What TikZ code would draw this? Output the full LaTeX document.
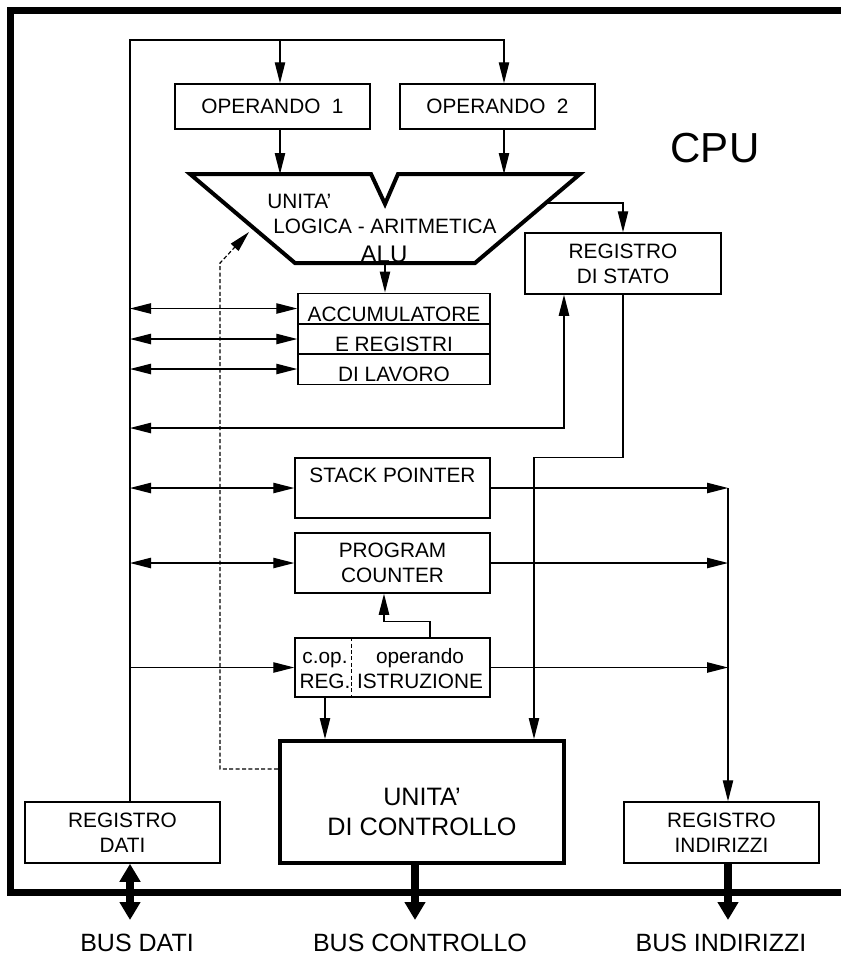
\documentclass[tikz,border=0pt]{standalone}
\usepackage{fontspec}
\setmainfont{Liberation Sans}
\usepackage{tikz}
\usetikzlibrary{positioning, arrows.meta, calc}

\tikzset{
  thin line/.style={line width=0.6pt},
  reg/.style={draw, line width=0.75pt, align=center, inner sep=0pt,
    font=\fontsize{10.4}{12.5}\selectfont},
  accrow/.style={reg, minimum width=96pt, minimum height=15.25pt,
    text height=12.5pt, text depth=0pt},
  arr/.style={thin line, -{Triangle[length=10.5pt,width=5.2pt]}},
  darr/.style={thin line, {Triangle[length=10.5pt,width=5.2pt]}-{Triangle[length=10.5pt,width=5.2pt]}},
  busarr/.style={line width=4pt, -{Triangle[length=9pt,width=10pt]}},
  busdarr/.style={line width=4pt, {Triangle[length=9pt,width=10pt]}-{Triangle[length=9pt,width=10pt]}},
  buslabel/.style={inner sep=0pt, font=\fontsize{12.5}{15}\selectfont},
}

\begin{document}
\begin{tikzpicture}[x=0.5pt, y=-0.5pt]
  \useasboundingbox (0,0) rectangle (841,955);
  \draw[line width=3.5pt, line join=miter] (841,10.5) -- (10.5,10.5) -- (10.5,892) -- (841,892);
  \node[font=\fontsize{21}{25}\selectfont] (cpu) at (715,148) {CPU};

  % ALU
  \coordinate (alu-a) at (190,174);
  \coordinate (alu-b) at (371,174);
  \coordinate (alu-c) at (385,204);
  \coordinate (alu-d) at (398,174);
  \coordinate (alu-e) at (580,174);
  \coordinate (alu-f) at (475,263);
  \coordinate (alu-g) at (295,263);
  \draw[line width=2pt, line join=miter] (alu-a) -- (alu-b) -- (alu-c) -- (alu-d) -- (alu-e)
    -- (alu-f) -- (alu-g) -- cycle;
  \node[anchor=base west, inner sep=0pt, font=\fontsize{10.4}{12.5}\selectfont] (alut1) at (267,208) {UNITA'};
  \node[anchor=base west, inner sep=0pt, font=\fontsize{10.4}{12.5}\selectfont] (alut2) at (273,233) {LOGICA - ARITMETICA};
  \node[anchor=base, inner sep=0pt, font=\fontsize{12}{14}\selectfont] (alut3) at (384,262) {ALU};

  \node[reg, minimum width=97.5pt, minimum height=22.5pt] (op1) at (272.5,106.5) {OPERANDO~~1};
  \node[reg, minimum width=97.5pt, minimum height=22.5pt] (op2) at (497.5,106.5) {OPERANDO~~2};
  \node[reg, minimum width=98pt, minimum height=30.5pt] (stato) at (623,263.5) {REGISTRO\\DI STATO};

  \node[accrow] (acc1) at (394,308.5) {ACCUMULATORE};
  \node[accrow] (acc2) at (394,339) {E REGISTRI};
  \node[accrow] (acc3) at (394,369) {DI LAVORO};

  \node[reg, minimum width=97.5pt, minimum height=30pt] (sp) at (392.5,488) {STACK POINTER\\~};
  \node[reg, minimum width=97.5pt, minimum height=30pt] (pc) at (392.5,563) {PROGRAM\\COUNTER};
  \node[reg, minimum width=97.5pt, minimum height=29.5pt] (ir) at (392.5,667.5) {};
  \node[align=center, inner sep=0pt, text height=20.5pt, text depth=0pt,
    font=\fontsize{10.4}{12.5}\selectfont] (irl) at (325,667.5) {c.op.\\REG.};
  \node[align=center, inner sep=0pt, text height=20.5pt, text depth=0pt,
    font=\fontsize{10.4}{12.5}\selectfont] (irr) at (420,667.5) {operando\\ISTRUZIONE};
  \draw[line width=0.75pt, dashed, dash pattern=on 2pt off 1.2pt]
    ($(ir.north west)+(57,0)$) -- ($(ir.south west)+(57,0)$);

  \node[reg, line width=2pt, minimum width=142pt, minimum height=61pt, text height=33pt, text depth=0pt,
    font=\fontsize{12.6}{15}\selectfont] (cu) at (422,802) {UNITA'\\DI CONTROLLO};
  \node[reg, minimum width=97.5pt, minimum height=30.5pt] (rd) at (122.5,832.5) {REGISTRO\\DATI};
  \node[reg, minimum width=97.5pt, minimum height=30.5pt] (ri) at (721.5,832.5) {REGISTRO\\INDIRIZZI};

  \coordinate (dl) at (130,40);
  \coordinate (al) at (728,488);
  \coordinate (in1) at (280,0);
  \coordinate (in2) at (504,0);
  \coordinate (ar) at (545,203);
  \coordinate (sf) at (564,428);
  \coordinate (xcu) at (534,0);
  \coordinate (xir) at (430,0);
  \coordinate (xpc) at (384,0);
  \coordinate (xcop) at (325,0);
  \coordinate (dsh) at (220,263);
  \coordinate (dtip) at (249,232);
  \coordinate (bd) at (130,920);
  \coordinate (bc) at (415,920);
  \coordinate (ba) at (728,920);

  \draw[arr] (rd.north -| dl) -- (dl) -| (op2.north -| in2);
  \draw[arr] (dl -| in1) -- (op1.north -| in1);
  \draw[arr] (op1.south -| in1) -- (alu-a -| in1);
  \draw[arr] (op2.south -| in2) -- (alu-a -| in2);
  \draw[arr] (alu-g -| alu-c) -- (acc1.north -| alu-c);
  \draw[arr] (ar) -| (stato.north);

  \draw[darr] (acc1.west -| dl) -- (acc1.west);
  \draw[darr] (acc2.west -| dl) -- (acc2.west);
  \draw[darr] (acc3.west -| dl) -- (acc3.west);
  \draw[darr] (sf -| dl) -| (stato.south -| sf);
  \draw[arr] (stato.south) -- (stato.south |- sp.north) -| (cu.north -| xcu);

  \draw[darr] (sp.west -| dl) -- (sp.west);
  \draw[darr] (pc.west -| dl) -- (pc.west);
  \draw[arr] (ir.west -| dl) -- (ir.west);
  \draw[arr] (sp.east) -- (sp.east -| al);
  \draw[arr] (pc.east) -- (pc.east -| al);
  \draw[arr] (ir.east) -- (ir.east -| al);
  \draw[arr] (al) -- (ri.north -| al);
  \draw[arr] (ir.north -| xir) -- ++(0,-16) -| (pc.south -| xpc);
  \draw[arr] (ir.south -| xcop) -- (cu.north -| xcop);
  \draw[arr, dashed, dash pattern=on 2pt off 1.2pt] (cu.north west) ++(0,30) -| (dsh) -- (dtip);

  \draw[busdarr] (rd.south -| bd) -- (bd);
  \draw[busarr] (cu.south -| bc) -- (bc);
  \draw[busarr] (ri.south -| ba) -- (ba);
  \node[buslabel] (busdati) at (137,943) {BUS DATI};
  \node[buslabel] (buscontrollo) at (420,943) {BUS CONTROLLO};
  \node[buslabel] (busindirizzi) at (721,943) {BUS INDIRIZZI};
\end{tikzpicture}
\end{document}
